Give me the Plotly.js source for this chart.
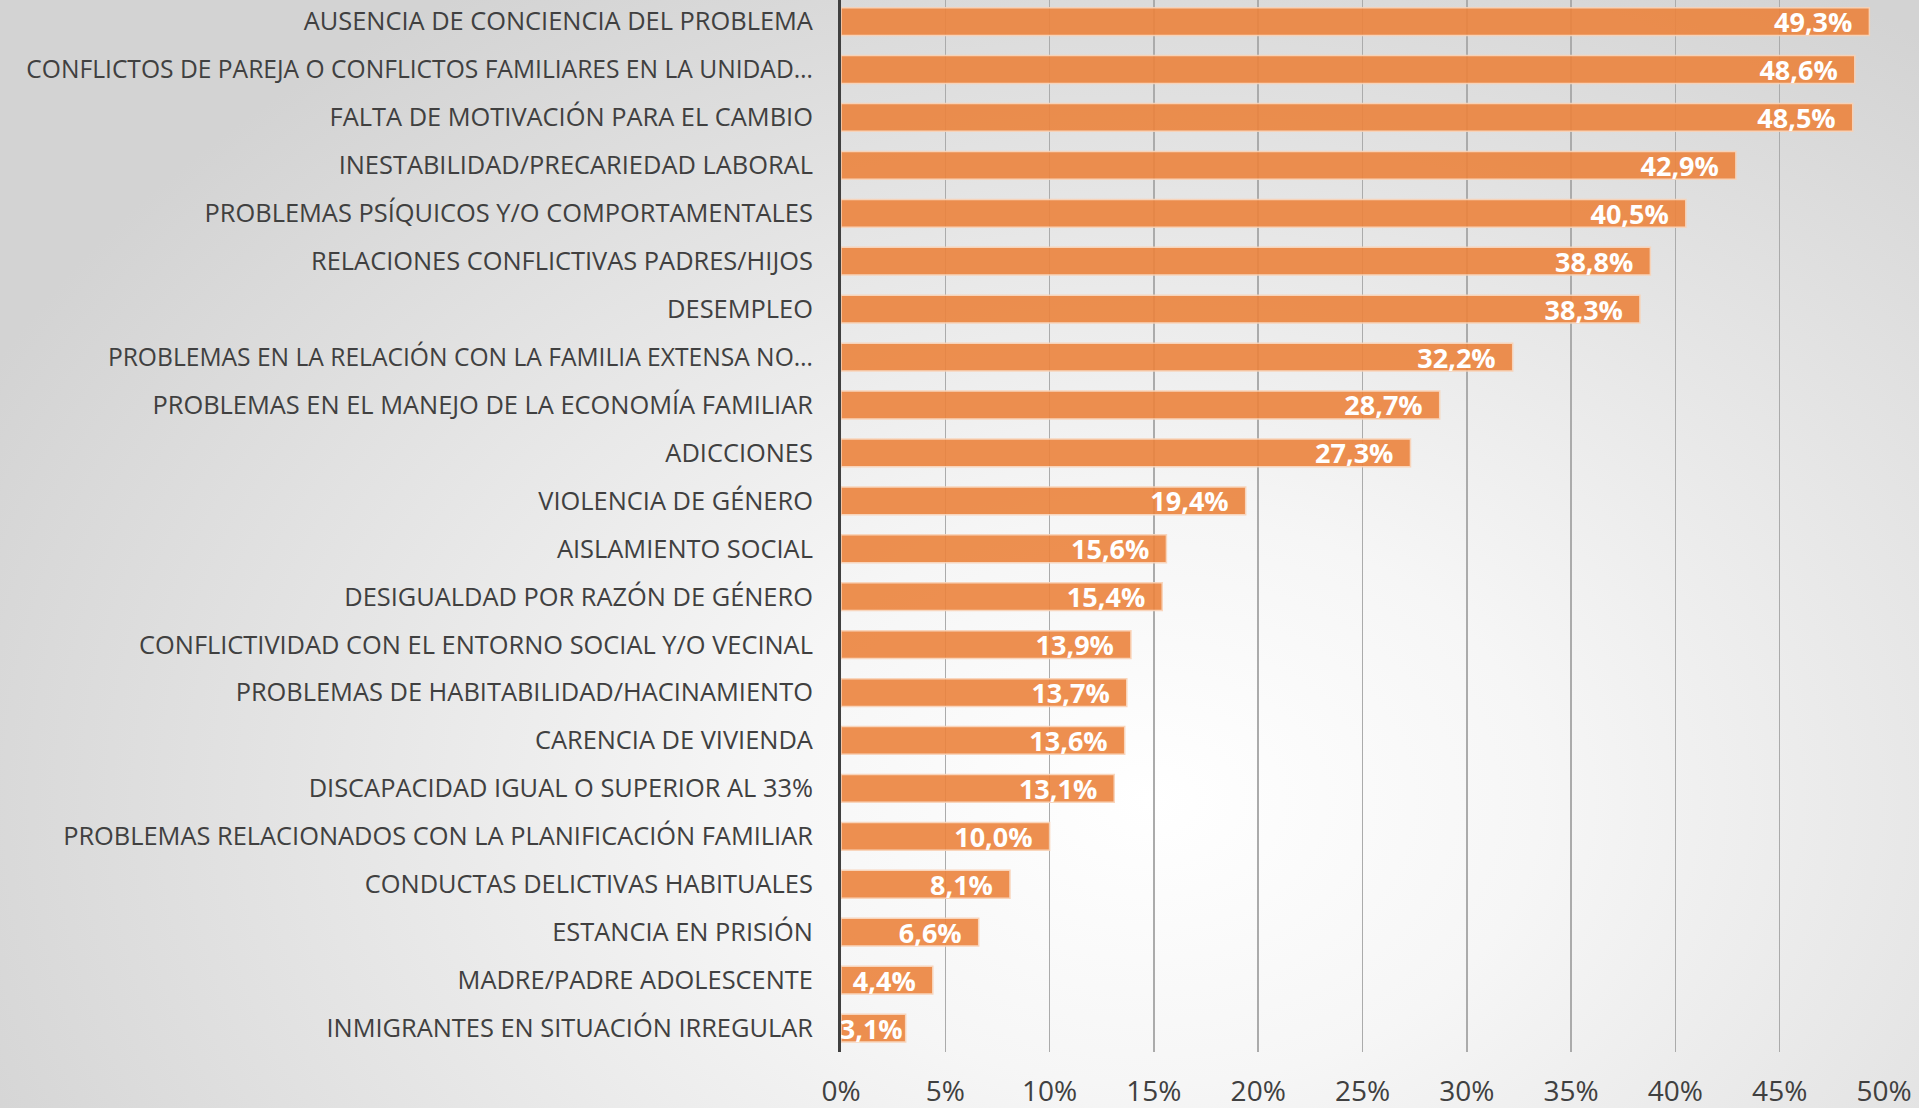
<!DOCTYPE html>
<html>
<head>
<meta charset="utf-8">
<script src="https://cdn.plot.ly/plotly-3.0.1.min.js"></script>
<style>
  html, body { margin: 0; padding: 0; width: 1919px; height: 1108px; overflow: hidden; }
  body { background: radial-gradient(ellipse 1300px 950px at 1150px 800px, #ffffff 0%, #f6f6f6 30%, #d3d3d3 100%); }
  #chart { width: 1919px; height: 1108px; }
</style>
</head>
<body>
<div id="chart"></div>
<script>
const categories = [
  "AUSENCIA DE CONCIENCIA DEL PROBLEMA",
  "CONFLICTOS DE PAREJA O CONFLICTOS FAMILIARES EN LA UNIDAD…",
  "FALTA DE MOTIVACIÓN PARA EL CAMBIO",
  "INESTABILIDAD/PRECARIEDAD LABORAL",
  "PROBLEMAS PSÍQUICOS Y/O COMPORTAMENTALES",
  "RELACIONES CONFLICTIVAS PADRES/HIJOS",
  "DESEMPLEO",
  "PROBLEMAS EN LA RELACIÓN CON LA FAMILIA EXTENSA NO…",
  "PROBLEMAS EN EL MANEJO DE LA ECONOMÍA FAMILIAR",
  "ADICCIONES",
  "VIOLENCIA DE GÉNERO",
  "AISLAMIENTO SOCIAL",
  "DESIGUALDAD POR RAZÓN DE GÉNERO",
  "CONFLICTIVIDAD CON EL ENTORNO SOCIAL Y/O VECINAL",
  "PROBLEMAS DE HABITABILIDAD/HACINAMIENTO",
  "CARENCIA DE VIVIENDA",
  "DISCAPACIDAD IGUAL O SUPERIOR AL 33%",
  "PROBLEMAS RELACIONADOS CON LA PLANIFICACIÓN FAMILIAR",
  "CONDUCTAS DELICTIVAS HABITUALES",
  "ESTANCIA EN PRISIÓN",
  "MADRE/PADRE ADOLESCENTE",
  "INMIGRANTES EN SITUACIÓN IRREGULAR"
];
const values = [49.3, 48.6, 48.5, 42.9, 40.5, 38.8, 38.3, 32.2, 28.7, 27.3, 19.4, 15.6, 15.4, 13.9, 13.7, 13.6, 13.1, 10.0, 8.1, 6.6, 4.4, 3.1];
const tickValues = [0, 5, 10, 15, 20, 25, 30, 35, 40, 45, 50];
const tickLabels = ["0%", "5%", "10%", "15%", "20%", "25%", "30%", "35%", "40%", "45%", "50%"];

// value labels: comma decimal, padded from the bar end (no padding when the bar is too short)
const labelText = values.map(v => v.toFixed(1).replace('.', ',') + '%' + (v >= 4 ? '\u00a0\u00a0' : ''));
// long (truncated) category labels drawn slightly smaller so they fit the left margin
const catText = categories.map(c => c.endsWith('…') ? '<span style="font-size:24.6px">' + c + '</span>' : c);
const FONT = '"Open Sans", sans-serif';

const trace = {
  type: 'bar',
  orientation: 'h',
  x: values,
  y: categories,
  text: labelText,
  textposition: 'inside',
  insidetextanchor: 'end',
  constraintext: 'none',
  textangle: 0,
  textfont: { family: FONT, size: 27, color: '#ffffff', weight: 'bold' },
  marker: { color: '#ec843e', opacity: 0.9, line: { color: '#f9d2b6', width: 1.5 } },
  hoverinfo: 'skip'
};

const layout = {
  width: 1919,
  height: 1108,
  margin: { l: 841, r: 35, t: 0, b: 56 },
  paper_bgcolor: 'rgba(0,0,0,0)',
  plot_bgcolor: 'rgba(0,0,0,0)',
  bargap: 0.42,
  showlegend: false,
  xaxis: {
    range: [0, 50],
    tickvals: tickValues,
    ticktext: tickLabels,
    showgrid: true,
    gridcolor: '#ababab',
    gridwidth: 1.5,
    zeroline: false,
    showline: false,
    ticks: '',
    ticklabelstandoff: 20,
    tickfont: { family: FONT, size: 28, color: '#404040' },
    fixedrange: true
  },
  yaxis: {
    type: 'category',
    range: [21.5, -0.45],
    tickvals: categories,
    ticktext: catText,
    showgrid: false,
    zeroline: false,
    showline: true,
    linecolor: '#404040',
    linewidth: 3,
    ticks: '',
    ticklabelstandoff: 20,
    tickfont: { family: FONT, size: 25.4, color: '#404040' },
    fixedrange: true
  }
};

Plotly.newPlot('chart', [trace], layout, { staticPlot: true, displayModeBar: false });
</script>
</body>
</html>
